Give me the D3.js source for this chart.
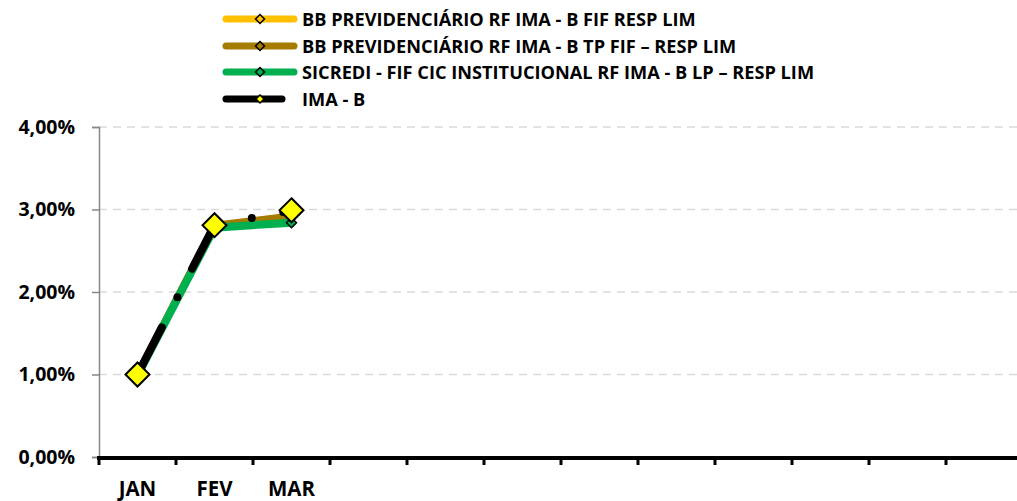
<!DOCTYPE html>
<html>
<head>
<meta charset="utf-8">
<script src="https://cdn.jsdelivr.net/npm/d3@7"></script>
<style>
  html, body { margin: 0; padding: 0; background: #fff; }
  svg { display: block; font-family: "Open Sans", Lato, sans-serif; font-weight: bold; }
</style>
</head>
<body>
<svg id="chart" width="1017" height="501"></svg>
<script>
// Monthly accumulated returns (%)
const months = ["JAN", "FEV", "MAR", "ABR", "MAI", "JUN", "JUL", "AGO", "SET", "OUT", "NOV", "DEZ"];
const monthLabels = ["JAN", "FEV", "MAR", "", "", "", "", "", "", "", "", ""];
const bbFifResp = [1.00, 2.80, 2.92];
const bbTpFifResp = [1.00, 2.81, 2.92];
const sicrediInst = [0.99, 2.78, 2.84];
const imaB = [1.00, 2.81, 2.99];
const yTicks = [0, 1, 2, 3, 4];

const seriesNames = [
  "BB PREVIDENCIÁRIO RF IMA - B FIF RESP LIM",
  "BB PREVIDENCIÁRIO RF IMA - B TP FIF – RESP LIM",
  "SICREDI - FIF CIC INSTITUCIONAL RF IMA - B LP – RESP LIM",
  "IMA - B"
];

const series = [
  { name: seriesNames[0], values: bbFifResp,   color: "#FFC000", width: 7, dash: null, marker: 9,  markerFill: "#FFC000" },
  { name: seriesNames[1], values: bbTpFifResp, color: "#A67C00", width: 7, dash: null, marker: 9,  markerFill: "#A67C00" },
  { name: seriesNames[2], values: sicrediInst, color: "#00B050", width: 8, dash: null, marker: 10, markerFill: "#00B050" },
  { name: seriesNames[3], values: imaB,        color: "#000000", width: 8, dash: "53 34 0 32", marker: 24, markerFill: "#FFFF00" }
];

const svg = d3.select("#chart");
const plotLeft = 99, plotBottom = 457, plotTop = 127;
const band = 77;

const x = d3.scaleBand().domain(months).range([plotLeft, plotLeft + band * months.length]).padding(0);
const y = d3.scaleLinear().domain([0, 4]).range([plotBottom, plotTop]);

// Horizontal dashed gridlines
svg.append("g")
  .selectAll("line")
  .data(yTicks.filter(d => d > 0))
  .join("line")
  .attr("x1", plotLeft).attr("x2", 1017)
  .attr("y1", d => y(d)).attr("y2", d => y(d))
  .attr("stroke", "#D9D9D9").attr("stroke-width", 1.5)
  .attr("stroke-dasharray", "8 6");

// Y axis
const yAxis = svg.append("g")
  .attr("transform", `translate(${plotLeft},0)`)
  .call(d3.axisLeft(y).tickValues(yTicks).tickSize(7).tickPadding(17)
    .tickFormat(d => d3.format(".2f")(d).replace(".", ",") + "%"));
yAxis.select(".domain").attr("stroke", "#868686").attr("stroke-width", 1.5);
yAxis.selectAll(".tick line").attr("stroke", "#868686").attr("stroke-width", 1.5);
yAxis.selectAll(".tick text")
  .attr("fill", "#000").style("font-size", "19.5px")
  .style("font-family", "'Open Sans', sans-serif").style("font-weight", "bold");

// X axis
const xAxis = svg.append("g")
  .attr("transform", `translate(0,${plotBottom + 1})`);
xAxis.append("line")
  .attr("x1", plotLeft - 2).attr("x2", 1017)
  .attr("y1", 0).attr("y2", 0)
  .attr("stroke", "#000").attr("stroke-width", 4);
const boundaries = d3.range(months.length + 1).map(i => x.range()[0] + i * x.bandwidth());
xAxis.selectAll("rect.tick")
  .data(boundaries)
  .join("rect")
  .attr("class", "tick")
  .attr("x", d => d - 1.5).attr("y", 0)
  .attr("width", 3).attr("height", 7)
  .attr("fill", "#000");
xAxis.selectAll("text")
  .data(months)
  .join("text")
  .attr("x", d => x(d) + x.bandwidth() / 2)
  .attr("y", 38)
  .attr("text-anchor", "middle")
  .style("font-size", "20.5px")
  .text((d, i) => monthLabels[i]);

// Series lines
const line = d3.line()
  .x((d, i) => x(months[i]) + x.bandwidth() / 2)
  .y(d => y(d));

const diamond = s => {
  const h = s / 2;
  return `M0,${-h}L${h},0L0,${h}L${-h},0Z`;
};

const plot = svg.append("g");
series.forEach(s => {
  plot.append("path")
    .datum(s.values)
    .attr("d", line)
    .attr("fill", "none")
    .attr("stroke", s.color)
    .attr("stroke-width", s.width)
    .attr("stroke-linecap", "round")
    .attr("stroke-linejoin", "round")
    .attr("stroke-dasharray", s.dash);
});
series.forEach(s => {
  plot.append("g")
    .selectAll("path")
    .data(s.values)
    .join("path")
    .attr("transform", (d, i) => `translate(${x(months[i]) + x.bandwidth() / 2},${y(d)})`)
    .attr("d", diamond(s.marker))
    .attr("fill", s.markerFill)
    .attr("stroke", "#000")
    .attr("stroke-width", s.marker > 15 ? 2 : 1.5)
    .attr("stroke-linejoin", "miter");
});

// Legend
const legend = svg.append("g");
const rowY = [19, 46, 72, 99];
series.forEach((s, i) => {
  const g = legend.append("g").attr("transform", `translate(0,${rowY[i]})`);
  g.append("line")
    .attr("x1", 226).attr("x2", i === 3 ? 282 : 294)
    .attr("y1", 0).attr("y2", 0)
    .attr("stroke", s.color)
    .attr("stroke-width", 7)
    .attr("stroke-linecap", "round");
  g.append("path")
    .attr("transform", "translate(260,0)")
    .attr("d", diamond(i === 3 ? 8 : 9))
    .attr("fill", s.markerFill)
    .attr("stroke", "#000")
    .attr("stroke-width", 1.5);
  g.append("text")
    .attr("x", 302)
    .attr("y", 7)
    .style("font-size", "18.2px")
    .text(s.name);
});
</script>
</body>
</html>
